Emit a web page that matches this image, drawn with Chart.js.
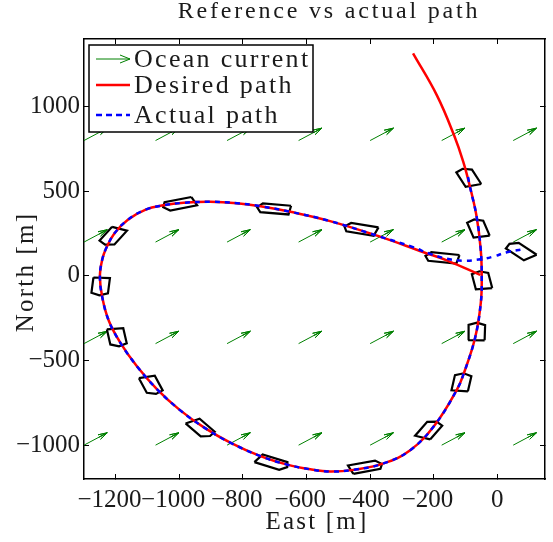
<!DOCTYPE html>
<html>
<head>
<meta charset="utf-8">
<title>Reference vs actual path</title>
<script src="https://cdn.jsdelivr.net/npm/chart.js@4"></script>
<style>
  html, body { margin: 0; padding: 0; background: #fff; }
  canvas { display: block; }
</style>
</head>
<body>
<canvas id="chart" width="553" height="542"></canvas>
<script>
// all values in metres
const desiredEast = [-265, -190, -136, -107, -86, -65, -52, -49, -52, -70, -105, -127, -196, -274, -358, -452, -526, -588, -661, -745, -840, -923, -1000, -1070, -1133, -1185, -1222, -1243, -1250, -1243, -1230, -1204, -1162, -1106, -1050, -987, -903, -819, -745, -651, -526, -369, -232, -159, -54];
const desiredNorth = [1315, 1067, 831, 674, 527, 350, 153, -4, -161, -367, -574, -672, -879, -1030, -1108, -1146, -1156, -1143, -1115, -1065, -985, -895, -790, -670, -535, -397, -265, -122, -4, 94, 165, 252, 332, 392, 417, 432, 438, 430, 412, 379, 324, 232, 140, 92, 6];

const actualEast = [-92, -86, -65, -52, -49, -52, -70, -105, -127, -196, -274, -358, -452, -526, -588, -661, -745, -840, -923, -1000, -1070, -1133, -1185, -1222, -1243, -1250, -1243, -1230, -1204, -1162, -1106, -1050, -987, -903, -819, -745, -651, -526, -369, -265, -211, -159, -107, -54, -13, 30, 80];
const actualNorth = [584, 527, 350, 153, -4, -161, -367, -574, -672, -879, -1030, -1108, -1146, -1156, -1143, -1115, -1065, -985, -895, -790, -670, -535, -397, -265, -122, -4, 94, 165, 252, 332, 392, 417, 432, 438, 430, 412, 379, 324, 232, 170, 130, 102, 90, 98, 114, 140, 157];

const shipEast = [-92, -61, -49, -65, -112, -213, -412, -706, -931, -1088, -1196, -1248, -1211, -1002, -704, -431, -175, 71];
const shipNorth = [584, 283, -24, -328, -627, -908, -1128, -1104, -902, -647, -364, -63, 232, 424, 397, 277, 108, 149];
const shipHeading = [161, 167, 172, 181, 187, 205, 251, 300, 328, 344, 353, 4, 26, 70, 99, 107, 101, 141];
// forward, starboard corners of the vessel outline
const hullForward = [52, 52, -38, -52, -38, 52];
const hullStarboard = [-26, 26, 26, 0, -26, -26];

const currentEast = [-1300, -1075, -850, -625, -400, -175, 50];
const currentNorth = [800, 200, -400, -1000];
const currentVector = [73, 73];

const xTicks = [-1200, -1000, -800, -600, -400, -200, 0];
const yTicks = [-1000, -500, 0, 500, 1000];

const titleText = 'Reference vs actual path';
const xLabel = 'East [m]';
const yLabel = 'North [m]';
const legendLabels = ['Ocean current', 'Desired path', 'Actual path'];

const RED = '#ff0000';
const BLUE = '#0000ff';
const GREEN = '#008000';
const INK = '#1a1a1a';
const FONT = '"Liberation Serif", serif';

const zip = (xs, ys) => xs.map((x, i) => ({ x: x, y: ys[i] }));
const gap = { x: NaN, y: NaN };

// hull outlines, broken up with gaps so they go in one dataset
const shipPoints = [];
shipEast.forEach((e, i) => {
  const psi = shipHeading[i] * Math.PI / 180;
  hullForward.forEach((f, k) => {
    const s = hullStarboard[k];
    shipPoints.push({
      x: e + f * Math.sin(psi) + s * Math.cos(psi),
      y: shipNorth[i] + f * Math.cos(psi) - s * Math.sin(psi)
    });
  });
  shipPoints.push(gap);
});

// quiver arrows, same idea. the middle barb fills in the head
const arrowPoints = [];
currentNorth.forEach(n => {
  currentEast.forEach(e => {
    const tipX = e + currentVector[0];
    const tipY = n + currentVector[1];
    const tip = { x: tipX, y: tipY };
    arrowPoints.push({ x: e, y: n }, tip);
    arrowPoints.push({ x: tipX - 29, y: tipY - 12 }, tip);
    arrowPoints.push({ x: tipX - 25, y: tipY - 25 }, tip);
    arrowPoints.push({ x: tipX - 21, y: tipY - 38 }, tip, gap);
  });
});

const linePlain = { pointRadius: 0, pointHoverRadius: 0, fill: false };

// labels and the boxed legend sit on top of the data
const overlay = {
  id: 'overlay',
  afterDraw(chart) {
    const ctx = chart.ctx;
    ctx.save();
    ctx.fillStyle = INK;
    ctx.textBaseline = 'middle';
    ctx.textAlign = 'center';

    ctx.letterSpacing = '2.8px';
    ctx.font = '24px ' + FONT;
    ctx.fillText(titleText, 329, 12);

    ctx.letterSpacing = '2.2px';
    ctx.font = '25px ' + FONT;
    ctx.fillText(xLabel, 317, 522);
    ctx.save();
    ctx.translate(26, 272);
    ctx.rotate(-Math.PI / 2);
    ctx.fillText(yLabel, 0, 0);
    ctx.restore();

    ctx.fillStyle = '#fff';
    ctx.strokeStyle = '#000';
    ctx.lineWidth = 1.5;
    ctx.fillRect(89, 45, 224, 87);
    ctx.strokeRect(89, 45, 224, 87);

    const rows = [59, 85, 115];
    ctx.textAlign = 'left';
    ctx.fillStyle = INK;
    ctx.letterSpacing = '2.3px';
    ctx.font = '26px ' + FONT;
    legendLabels.forEach((label, i) => ctx.fillText(label, 134, rows[i] + 1));

    ctx.lineWidth = 1;
    ctx.strokeStyle = GREEN;
    ctx.beginPath();
    ctx.moveTo(96, rows[0]);
    ctx.lineTo(130, rows[0]);
    ctx.moveTo(120, rows[0] - 4);
    ctx.lineTo(130, rows[0]);
    ctx.lineTo(120, rows[0] + 4);
    ctx.stroke();

    ctx.lineWidth = 2.5;
    ctx.strokeStyle = RED;
    ctx.beginPath();
    ctx.moveTo(96, rows[1]);
    ctx.lineTo(130, rows[1]);
    ctx.stroke();

    ctx.strokeStyle = BLUE;
    ctx.setLineDash([6, 4]);
    ctx.beginPath();
    ctx.moveTo(96, rows[2]);
    ctx.lineTo(130, rows[2]);
    ctx.stroke();
    ctx.restore();
  }
};

const minusLabel = v => String(v).replace('-', '\u2212');
// digits sit over the tick and the minus hangs out left, trailing spaces do that
const eastLabel = v => (v < 0 ? minusLabel(v) + '  ' : minusLabel(v));

const sideScale = (position, min, max, ticks, fitSize, labelFn) => ({
  type: 'linear',
  position: position,
  min: min,
  max: max,
  border: { color: '#000', width: 1.5 },
  grid: { drawOnChartArea: false, drawTicks: true, tickLength: -5, tickColor: '#000', tickWidth: 1 },
  ticks: {
    display: position === 'left' || position === 'bottom',
    autoSkip: false,
    maxRotation: 0,
    padding: position === 'bottom' ? 11 : 9,
    color: INK,
    font: { family: FONT, size: 25 },
    callback: labelFn
  },
  afterBuildTicks(scale) {
    scale.ticks = ticks.map(v => ({ value: v }));
  },
  afterFit(scale) {
    if (scale.isHorizontal()) scale.height = fitSize;
    else scale.width = fitSize;
  }
});

new Chart(document.getElementById('chart'), {
  type: 'line',
  data: {
    datasets: [
      { label: legendLabels[0], data: arrowPoints, borderColor: GREEN, borderWidth: 1, tension: 0, order: 4, ...linePlain },
      { label: 'Vessel', data: shipPoints, borderColor: '#000', borderWidth: 2.2, tension: 0, order: 3, ...linePlain },
      { label: legendLabels[1], data: zip(desiredEast, desiredNorth), borderColor: RED, borderWidth: 2.5, tension: 0.4, order: 2, ...linePlain },
      { label: legendLabels[2], data: zip(actualEast, actualNorth), borderColor: BLUE, borderWidth: 2.5, borderDash: [5, 5], tension: 0.4, order: 1, ...linePlain }
    ]
  },
  options: {
    responsive: false,
    animation: false,
    layout: { padding: { left: 0, right: 8, top: 39, bottom: 0 } },
    plugins: {
      legend: { display: false },
      tooltip: { enabled: false },
      title: { display: false }
    },
    scales: {
      x: sideScale('bottom', -1300, 150, xTicks, 63, eastLabel),
      y: sideScale('left', -1200, 1400, yTicks, 84, minusLabel),
      x2: sideScale('top', -1300, 150, xTicks, 0, minusLabel),
      y2: sideScale('right', -1200, 1400, yTicks, 0, minusLabel)
    }
  },
  plugins: [overlay]
});
</script>
</body>
</html>
